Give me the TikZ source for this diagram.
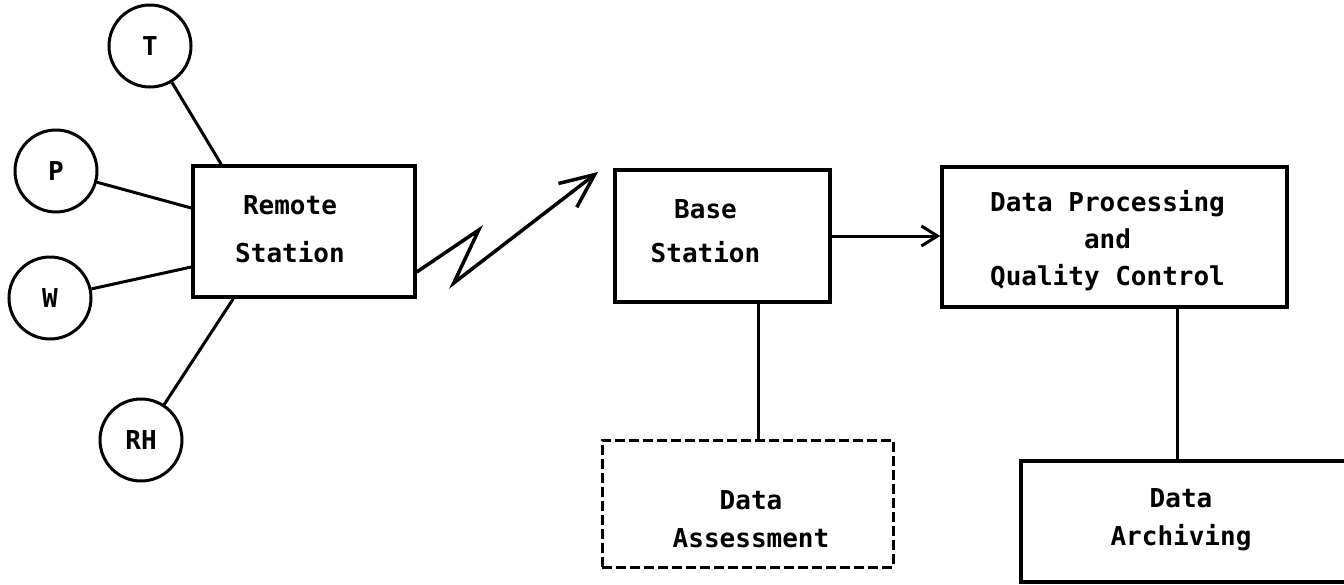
\documentclass[tikz,border=0pt]{standalone}
\usepackage{fontspec}
\newfontfamily\typer{DejaVu Sans Mono}
\usetikzlibrary{arrows.meta}

\begin{document}
\begin{tikzpicture}[x=1pt,y=-1pt]
    \tikzstyle{sensor}=[circle,draw,line width=3pt,minimum size=82pt,inner sep=0pt,font=\typer\bfseries\fontsize{26}{30}\selectfont]
    \tikzstyle{box}=[rectangle,draw,line width=3.5pt,inner sep=0pt]
    \tikzstyle{lbl}=[align=center,inner sep=0pt,font=\typer\bfseries\fontsize{26}{40}\selectfont]
    \tikzstyle{wire}=[line width=3pt]
    \useasboundingbox (0,0) rectangle (1344,584);

    % sensors
    \node[sensor] (T) at (150,46) {T};
    \node[sensor] (P) at (56,171) {P};
    \node[sensor] (W) at (50,298) {W};
    \node[sensor] (RH) at (141,440) {RH};

    % boxes
    \node[box,minimum width=222pt,minimum height=131pt,
        label={[lbl,name=remote-lbl,xshift=-14pt,yshift=2pt]center:Remote\\[8pt]Station}] (remote) at (304,231.5) {};
    \node[box,minimum width=215pt,minimum height=132pt,
        label={[lbl,name=base-lbl,xshift=-17pt,yshift=4.5pt]center:Base\\[4pt]Station}] (base) at (722.5,236) {};
    \node[box,minimum width=345pt,minimum height=140pt,
        label={[lbl,name=dpqc-lbl,xshift=-7pt,yshift=-4pt]center:Data Processing\\[-3pt]and\\[-3pt]Quality Control}] (dpqc) at (1114.5,237) {};
    \node[box,dash pattern=on 10pt off 4pt,line width=3pt,minimum width=291pt,minimum height=127pt,
        label={[lbl,name=assess-lbl,xshift=3.5pt,yshift=-16pt]center:Data\\[-2pt]Assessment}] (assess) at (747.5,503.5) {};
    \node[box,minimum width=349pt,minimum height=121pt,
        label={[lbl,name=archive-lbl,xshift=-14.5pt,yshift=1.5pt]center:Data\\[-2pt]Archiving}] (archive) at (1195.5,521.5) {};

    % connectors
    \draw[wire] (T) -- ([xshift=30pt]remote.north west);
    \draw[wire] (P) -- ([yshift=23.5pt]remote.west);
    \draw[wire] (W) -- ([yshift=-35.5pt]remote.west);
    \draw[wire] (RH) -- ([xshift=42pt]remote.south west);

    \coordinate (tip) at (598,172);
    \draw[wire,line width=3.5pt,-{Straight Barb[length=34pt,width=30pt]}]
        ([yshift=-40.5pt]remote.east) -- ++(62,-42) -- ++(-25,53) -- (tip);
    \draw[wire,-{Straight Barb[length=16pt,width=20pt]}] (base.east) -- (base.east -| dpqc.west);
    \draw[wire] ([xshift=35.5pt]base.south) -- ([xshift=35.5pt]base.south |- assess.north);
    \draw[wire] ([xshift=62.5pt]dpqc.south) -- ([xshift=62.5pt]dpqc.south |- archive.north);
\end{tikzpicture}
\end{document}
